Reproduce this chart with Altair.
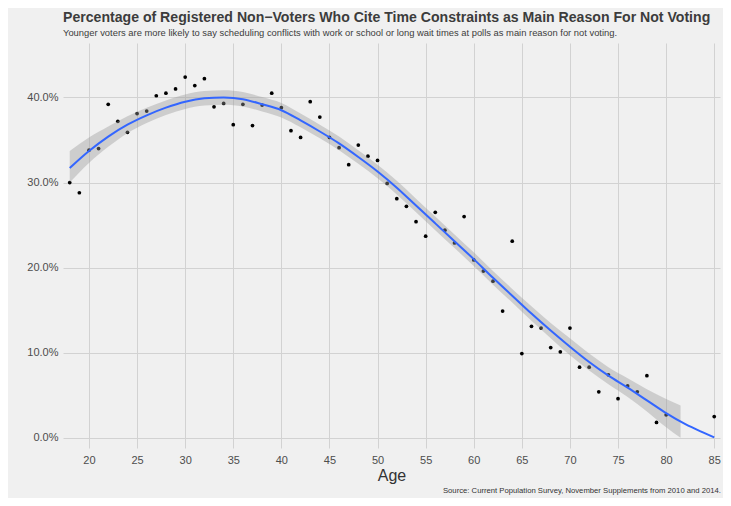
import altair as alt
import pandas as pd

# Observed share (%) of registered non-voters citing time constraints, by age
ages = list(range(18, 81)) + [85]
pct = [
    30.0, 28.8, 33.8, 34.0, 39.2, 37.2, 35.9, 38.1, 38.4, 40.2,   # 18-27
    40.5, 41.0, 42.4, 41.4, 42.2, 38.9, 39.3, 36.8, 39.2, 36.7,   # 28-37
    39.1, 40.5, 38.8, 36.1, 35.3, 39.5, 37.7, 35.3, 34.1, 32.1,   # 38-47
    34.4, 33.1, 32.6, 29.9, 28.1, 27.2, 25.4, 23.7, 26.5, 24.4,   # 48-57
    22.9, 26.0, 20.9, 19.6, 18.4, 14.9, 23.1, 9.9, 13.1, 12.9,    # 58-67
    10.6, 10.1, 12.9, 8.3, 8.3, 5.4, 7.4, 4.6, 6.1, 5.4,          # 68-77
    7.3, 1.8, 2.7,                                                # 78-80
    2.5,                                                          # 85
]

# Smoothed trend line
fit_age = [18, 20, 22, 24, 26, 28, 30, 32, 34, 36, 38, 40, 42, 44, 46, 48, 50,
           52, 54, 56, 58, 60, 62, 64, 66, 68, 70, 72, 74, 76, 78, 80, 82, 84, 85]
fit_pct = [31.7, 33.7, 35.4, 36.8, 37.9, 38.8, 39.5, 39.9, 40.0, 39.8, 39.2,
           38.5, 37.3, 36.0, 34.6, 33.0, 31.3, 29.4, 27.3, 25.2, 23.1, 21.0,
           18.8, 16.7, 14.6, 12.6, 10.7, 8.9, 7.3, 5.9, 4.4, 2.9, 1.6, 0.55, 0.05]

# Confidence band (ends where its lower edge reaches 0)
band_age = [18, 20, 22, 24, 26, 28, 30, 32, 34, 36, 38, 40, 42, 44, 46, 48, 50,
            52, 54, 56, 58, 60, 62, 64, 66, 68, 70, 72, 74, 76, 78, 80, 81.5]
band_lo = [30.0, 32.3, 34.2, 35.8, 37.0, 37.95, 38.65, 39.05, 39.15, 38.95,
           38.35, 37.65, 36.5, 35.2, 33.8, 32.2, 30.5, 28.6, 26.5, 24.4, 22.3,
           20.2, 18.0, 15.9, 13.75, 11.7, 9.7, 7.9, 6.3, 4.8, 3.1, 1.25, 0.0]
band_hi = [33.7, 35.3, 36.6, 37.8, 38.8, 39.65, 40.35, 40.75, 40.85, 40.65,
           40.05, 39.35, 38.1, 36.8, 35.4, 33.8, 32.1, 30.2, 28.1, 26.0, 23.9,
           21.8, 19.6, 17.5, 15.45, 13.5, 11.7, 9.9, 8.3, 7.0, 5.7, 4.55, 3.8]

x_ticks = list(range(20, 90, 5))
y_ticks = [0, 10, 20, 30, 40]

TITLE = "Percentage of Registered Non\u2212Voters Who Cite Time Constraints as Main Reason For Not Voting"
SUBTITLE = ("Younger voters are more likely to say scheduling conflicts with work or school "
            "or long wait times at polls as main reason for not voting.")
CAPTION = "Source: Current Population Survey, November Supplements from 2010 and 2014."

FONT = "Liberation Sans"
W, H = 657, 405

pts = pd.DataFrame({"age": ages, "pct": pct})
fit = pd.DataFrame({"age": fit_age, "pct": fit_pct})
band = pd.DataFrame({"age": band_age, "lo": band_lo, "hi": band_hi})
cap = pd.DataFrame({"t": [CAPTION]})

xs = alt.Scale(domain=[17.3, 85.6], nice=False, zero=False)
ys = alt.Scale(domain=[-1.2, 46.4], nice=False, zero=False)

x_axis = alt.Axis(values=x_ticks, ticks=False, domain=False, grid=True,
                  gridColor="#D2D2D2", gridWidth=1, labelFont=FONT,
                  labelFontSize=11, labelColor="#4D4D4D", labelPadding=6,
                  title="Age", titleFont=FONT, titleFontSize=16,
                  titleFontWeight="normal", titleColor="#333333", titlePadding=2)
y_axis = alt.Axis(values=y_ticks, ticks=False, domain=False, grid=True,
                  gridColor="#D2D2D2", gridWidth=1, labelFont=FONT,
                  labelFontSize=11, labelColor="#4D4D4D", labelPadding=5,
                  labelExpr="format(datum.value, '.1f') + '%'", title=None)

points = alt.Chart(pts).mark_circle(size=14, color="black", opacity=1).encode(
    x=alt.X("age:Q", scale=xs, axis=x_axis),
    y=alt.Y("pct:Q", scale=ys, axis=y_axis),
)

ribbon = alt.Chart(band).mark_area(color="#999999", opacity=0.4,
                                   interpolate="monotone").encode(
    x=alt.X("age:Q", scale=xs, axis=x_axis),
    y=alt.Y("lo:Q", scale=ys, axis=y_axis),
    y2="hi:Q",
)

line = alt.Chart(fit).mark_line(color="#3366FF", strokeWidth=2,
                                interpolate="monotone").encode(
    x=alt.X("age:Q", scale=xs, axis=x_axis),
    y=alt.Y("pct:Q", scale=ys, axis=y_axis),
)

caption = alt.Chart(cap).mark_text(align="right", baseline="middle", font=FONT,
                                   fontSize=7.7, color="#333333").encode(
    x=alt.value(W + 1),
    y=alt.value(H + 43),
    text="t:N",
)

chart = alt.layer(points, ribbon, line, caption).properties(
    width=W,
    height=H,
    title=alt.TitleParams(
        text=TITLE, subtitle=SUBTITLE, anchor="start", frame="group",
        font=FONT, fontSize=14.1, fontWeight="bold", color="#3C3C3C",
        subtitleFont=FONT, subtitleFontSize=9.4, subtitleColor="#3C3C3C",
        subtitlePadding=4, offset=6,
    ),
    autosize=alt.AutoSizeParams(type="none"),
    padding={"left": 55, "top": 35, "right": 3, "bottom": 50},
).configure(background="#F0F0F0").configure_view(stroke=None)

chart.save("out.html", embed_options={"renderer": "svg", "actions": False})
